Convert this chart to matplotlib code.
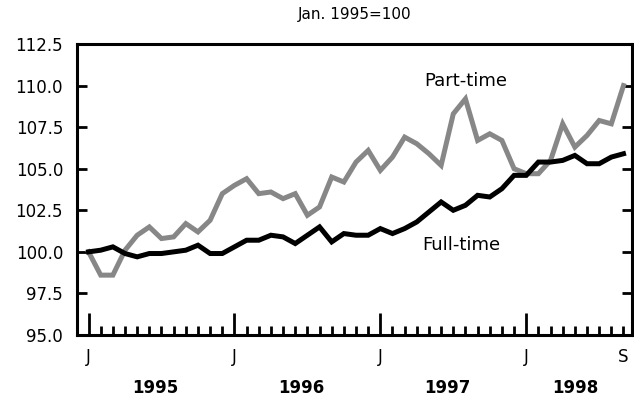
import matplotlib
matplotlib.use("Agg")
import matplotlib.pyplot as plt
from matplotlib.ticker import FixedLocator, FuncFormatter
import matplotlib.transforms as mtransforms

plt.rcParams["font.family"] = ["DejaVu Sans"]

# monthly index, Jan 1995 = 100 (Jan 1995 .. Sep 1998)
months = list(range(45))
part_time = [
    100.0, 98.6, 98.6, 100.1, 101.0, 101.5, 100.8, 100.9, 101.7, 101.2, 101.9, 103.5,
    104.0, 104.4, 103.5, 103.6, 103.2, 103.5, 102.2, 102.7, 104.5, 104.2, 105.4, 106.1,
    104.9, 105.7, 106.9, 106.5, 105.9, 105.2, 108.3, 109.2, 106.7, 107.1, 106.7, 105.0,
    104.7, 104.7, 105.5, 107.7, 106.3, 107.0, 107.9, 107.7, 110.0,
]
full_time = [
    100.0, 100.1, 100.3, 99.9, 99.7, 99.9, 99.9, 100.0, 100.1, 100.4, 99.9, 99.9,
    100.3, 100.7, 100.7, 101.0, 100.9, 100.5, 101.0, 101.5, 100.6, 101.1, 101.0, 101.0,
    101.4, 101.1, 101.4, 101.8, 102.4, 103.0, 102.5, 102.8, 103.4, 103.3, 103.8, 104.6,
    104.6, 105.4, 105.4, 105.5, 105.8, 105.3, 105.3, 105.7, 105.9,
]
x_major = [0, 12, 24, 36, 44]
x_major_labels = ["J", "J", "J", "J", "S"]
years = ["1995", "1996", "1997", "1998"]
year_centers = [5.5, 17.5, 29.5, 40.0]
y_ticks = [95.0, 97.5, 100.0, 102.5, 105.0, 107.5, 110.0, 112.5]

fig = plt.figure(figsize=(6.34, 4.0), dpi=100)
ax = fig.add_axes([77 / 634, 1 - 335 / 400, (632 - 77) / 634, (335 - 44) / 400])

ax.plot(months, part_time, color="#878787", linewidth=3.6, solid_joinstyle="miter")
ax.plot(months, full_time, color="black", linewidth=3.6, solid_joinstyle="miter")

ax.set_xlim(-0.95, 44.7)
ax.set_ylim(95.0, 112.5)

for s in ax.spines.values():
    s.set_linewidth(2.2)

ax.yaxis.set_major_locator(FixedLocator(y_ticks))
ax.yaxis.set_major_formatter(FuncFormatter(lambda v, p: f"{v:.1f}"))
ax.tick_params(axis="y", which="major", direction="in", length=7, width=2,
               left=True, right=True, labelsize=12, pad=10)

ax.xaxis.set_major_locator(FixedLocator(x_major))
ax.set_xticklabels(x_major_labels)
ax.xaxis.set_minor_locator(FixedLocator(months))
ax.tick_params(axis="x", which="major", direction="in", length=16, width=2,
               labelsize=12, pad=9)
ax.tick_params(axis="x", which="minor", direction="in", length=6.5, width=2)
ax.xaxis.get_major_ticks()[-1].tick1line.set_markersize(6.5)

trans = mtransforms.blended_transform_factory(ax.transData, fig.transFigure)
for yr, c in zip(years, year_centers):
    ax.text(c, 1 - 388 / 400, yr, transform=trans, ha="center", va="center",
            fontsize=12, fontweight="bold")

fig.text((77 + 632) / 2 / 634, 1 - 14 / 400, "Jan. 1995=100", ha="center",
         va="center", fontsize=11)

ax.text(31.0, 110.3, "Part-time", ha="center", va="center", fontsize=13)
ax.text(30.7, 100.4, "Full-time", ha="center", va="center", fontsize=13)

fig.savefig("out.png", dpi=100)
